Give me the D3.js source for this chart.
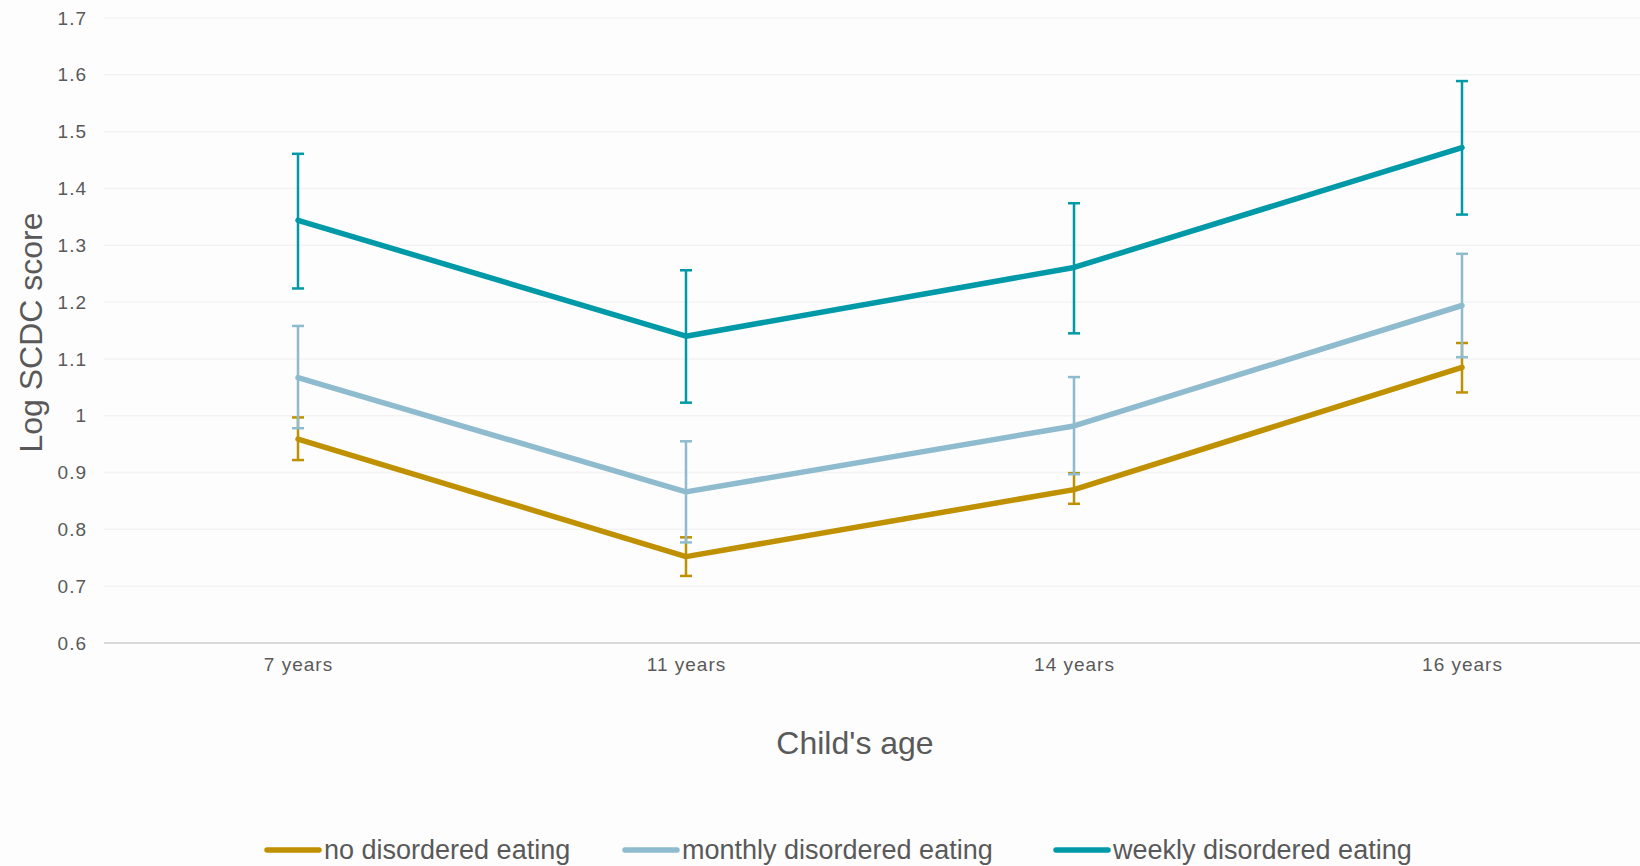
<!DOCTYPE html>
<html>
<head>
<meta charset="utf-8">
<script src="https://cdn.jsdelivr.net/npm/d3@7"></script>
<style>
  html, body { margin: 0; padding: 0; background: #fdfdfd; }
  svg { display: block; font-family: "Liberation Sans", Arial, sans-serif; }
</style>
</head>
<body>
<svg id="chart" width="1640" height="866"></svg>
<script>
// Child's age at each survey wave
const ages = ["7 years", "11 years", "14 years", "16 years"];

// Series names and colours
const seriesNames = ["no disordered eating", "monthly disordered eating", "weekly disordered eating"];
const seriesColors = ["#BF9000", "#8FBBCE", "#0099A8"];

// Mean log SCDC score per age
const noMean      = [0.959, 0.752, 0.870, 1.085];
const monthlyMean = [1.067, 0.866, 0.982, 1.194];
const weeklyMean  = [1.344, 1.140, 1.261, 1.472];

// Lower / upper confidence limits per age
const noLow       = [0.922, 0.718, 0.845, 1.041];
const noHigh      = [0.997, 0.786, 0.899, 1.128];
const monthlyLow  = [0.978, 0.777, 0.897, 1.103];
const monthlyHigh = [1.158, 0.955, 1.068, 1.285];
const weeklyLow   = [1.224, 1.023, 1.145, 1.354];
const weeklyHigh  = [1.461, 1.256, 1.374, 1.589];

// Y axis tick values
const yTicks = [0.6, 0.7, 0.8, 0.9, 1.0, 1.1, 1.2, 1.3, 1.4, 1.5, 1.6, 1.7];

const series = [
  { name: seriesNames[0], color: seriesColors[0], mean: noMean, low: noLow, high: noHigh },
  { name: seriesNames[1], color: seriesColors[1], mean: monthlyMean, low: monthlyLow, high: monthlyHigh },
  { name: seriesNames[2], color: seriesColors[2], mean: weeklyMean, low: weeklyLow, high: weeklyHigh }
];

const svg = d3.select("#chart");
const plot = { left: 104, right: 1656, top: 18, bottom: 643 };

const x = d3.scalePoint().domain(ages).range([plot.left, plot.right]).padding(0.5);
const y = d3.scaleLinear().domain([0.6, 1.7]).range([plot.bottom, plot.top]);

const textColor = "#595959";

// Horizontal gridlines
svg.append("g")
  .selectAll("line")
  .data(yTicks.slice(1))
  .join("line")
  .attr("x1", plot.left).attr("x2", plot.right)
  .attr("y1", d => y(d)).attr("y2", d => y(d))
  .attr("stroke", "#f3f3f3").attr("stroke-width", 1.5);

// Y axis labels
const yAxis = svg.append("g")
  .attr("transform", `translate(${plot.left - 17},0)`)
  .call(d3.axisLeft(y).tickValues(yTicks).tickFormat(d => d === 1 ? "1" : d3.format(".1f")(d)).tickSize(0).tickPadding(0));
yAxis.select(".domain").remove();
yAxis.selectAll("text")
  .attr("fill", textColor).attr("font-size", 19)
  .attr("letter-spacing", 1)
  .attr("font-family", "\"Liberation Sans\", Arial, sans-serif");

// X axis line and labels
const xAxis = svg.append("g")
  .attr("transform", `translate(0,${plot.bottom})`)
  .call(d3.axisBottom(x).tickSize(0).tickPadding(15));
xAxis.select(".domain").attr("stroke", "#d9d9d9").attr("stroke-width", 2)
  .attr("d", `M${plot.left},0H${plot.right}`);
xAxis.selectAll("text")
  .attr("fill", textColor).attr("font-size", 19)
  .attr("letter-spacing", 1)
  .attr("font-family", "\"Liberation Sans\", Arial, sans-serif");

// Axis titles
svg.append("text")
  .attr("transform", `translate(42,${(plot.top + plot.bottom) / 2 + 2}) rotate(-90)`)
  .attr("text-anchor", "middle")
  .attr("fill", textColor).attr("font-size", 32)
  .text("Log SCDC score");

svg.append("text")
  .attr("x", 855).attr("y", 754)
  .attr("text-anchor", "middle")
  .attr("fill", textColor).attr("font-size", 32)
  .text("Child's age");

// Series: error bars then mean lines
const line = d3.line().x((d, i) => x(ages[i])).y(d => y(d));
const capHalf = 6;

series.forEach(s => {
  const g = svg.append("g");
  ages.forEach((a, i) => {
    const cx = x(a);
    g.append("line")
      .attr("x1", cx).attr("x2", cx)
      .attr("y1", y(s.low[i])).attr("y2", y(s.high[i]))
      .attr("stroke", s.color).attr("stroke-width", 2.5);
    [s.low[i], s.high[i]].forEach(v => {
      g.append("line")
        .attr("x1", cx - capHalf).attr("x2", cx + capHalf)
        .attr("y1", y(v)).attr("y2", y(v))
        .attr("stroke", s.color).attr("stroke-width", 2.5);
    });
  });
  g.append("path")
    .datum(s.mean)
    .attr("d", line)
    .attr("fill", "none")
    .attr("stroke", s.color)
    .attr("stroke-width", 5.5)
    .attr("stroke-linejoin", "round")
    .attr("stroke-linecap", "round");
});

// Legend
const legendX = [267, 625, 1056];
const legend = svg.append("g");
series.forEach((s, i) => {
  const lg = legend.append("g").attr("transform", `translate(${legendX[i]},850)`);
  lg.append("line")
    .attr("x1", 0).attr("x2", 52).attr("y1", 0).attr("y2", 0)
    .attr("stroke", s.color).attr("stroke-width", 5.5).attr("stroke-linecap", "round");
  lg.append("text")
    .attr("x", 57).attr("y", 9)
    .attr("fill", textColor).attr("font-size", 27)
    .text(s.name);
});
</script>
</body>
</html>
